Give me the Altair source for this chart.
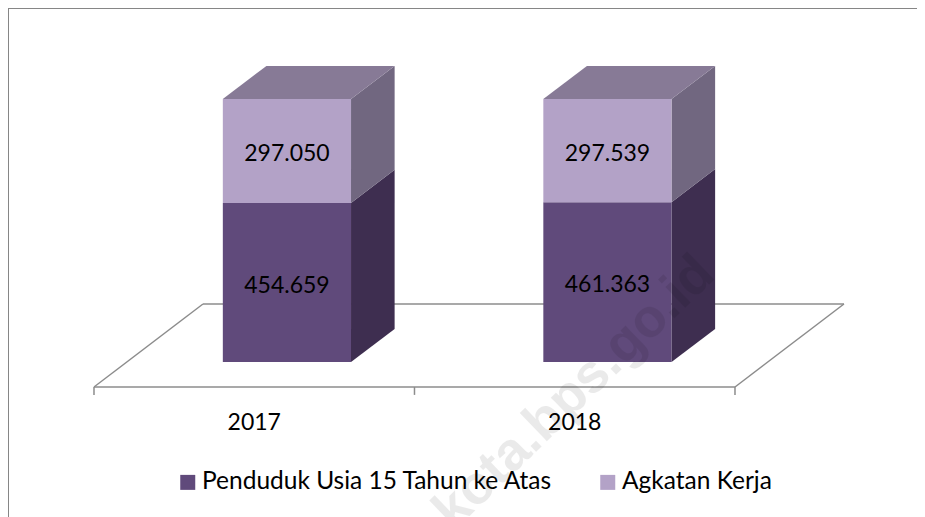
import altair as alt
import pandas as pd

# --- chart values -----------------------------------------------------
categories = ["2017", "2018"]
series_names = ["Penduduk Usia 15 Tahun ke Atas", "Agkatan Kerja"]
penduduk = [454.659, 461.363]
angkatan = [297.050, 297.539]
front_colors = ["#604A7B", "#B3A2C7"]
side_colors = ["#3E2E50", "#716780"]
top_color = "#877A96"
axis_color = "#8C8C8C"
font = "Lato"

# --- 3D projection: category units on x, share of the stack on y -------
W, H = 909, 509
BAR_W = 0.40
DEPTH_X = 0.340       # x shift for full floor depth
DEPTH_Y = 0.3156      # y shift for full floor depth
Z0, Z1 = 0.3, 0.7     # bar position in the floor depth
x_scale = alt.Scale(domain=[-0.2683, 2.5679], nice=False, zero=False)
y_scale = alt.Scale(domain=[-0.4943, 1.4411], nice=False, zero=False)


def px(x, z):
    return x + DEPTH_X * z


def py(y, z):
    return y + DEPTH_Y * z


front, faces, labels = [], [], []
for i, cat in enumerate(categories):
    total = penduduk[i] + angkatan[i]
    left = i + 0.5 - BAR_W / 2
    right = i + 0.5 + BAR_W / 2
    base = 0.0
    for j, val in enumerate((penduduk[i], angkatan[i])):
        top = base + val / total
        front.append(dict(cat=cat, series=series_names[j],
                          x=px(left, Z0), x2=px(right, Z0),
                          y=py(base, Z0), y2=py(top, Z0)))
        labels.append(dict(x=px(i + 0.5, Z0), y=py((base + top) / 2, Z0), v=val))
        key = f"side-{cat}-{j}"
        for z in (Z0, Z1):
            faces.append(dict(key=key, fill=side_colors[j], x=px(right, z),
                              y=py(base, z), y2=py(top, z)))
        base = top
    key = f"top-{cat}"
    yf, yb = py(1, Z0), py(1, Z1)
    for xx, a, b in ((px(left, Z0), yf, yf), (px(left, Z1), yb, yf),
                     (px(right, Z0), yb, yf), (px(right, Z1), yb, yb)):
        faces.append(dict(key=key, fill=top_color, x=xx, y=a, y2=b))

n = len(categories)
floor = pd.DataFrame([
    dict(seg="back", order=0, x=px(0, 1), y=py(0, 1)),
    dict(seg="back", order=1, x=px(n, 1), y=py(0, 1)),
    dict(seg="left", order=0, x=px(0, 0), y=py(0, 0)),
    dict(seg="left", order=1, x=px(0, 1), y=py(0, 1)),
    dict(seg="right", order=0, x=px(n, 0), y=py(0, 0)),
    dict(seg="right", order=1, x=px(n, 1), y=py(0, 1)),
    dict(seg="front", order=0, x=px(0, 0), y=py(0, 0)),
    dict(seg="front", order=1, x=px(n, 0), y=py(0, 0)),
])
ticks = pd.DataFrame([dict(x=float(i), y=0.0, y2=-0.030) for i in range(n + 1)])
cat_labels = pd.DataFrame([dict(x=i + 0.5, y=-0.137, t=c) for i, c in enumerate(categories)])

X = alt.X("x:Q", scale=x_scale, axis=None)
Y = alt.Y("y:Q", scale=y_scale, axis=None)

floor_layer = alt.Chart(floor).mark_line(color=axis_color, strokeWidth=1.5).encode(
    x=X, y=Y, detail="seg:N", order="order:Q")
tick_layer = alt.Chart(ticks).mark_rule(color=axis_color, strokeWidth=1.5).encode(
    x=X, y=Y, y2="y2:Q")
face_layer = alt.Chart(pd.DataFrame(faces)).mark_area(opacity=1).encode(
    x=X, y=Y, y2="y2:Q", detail="key:N",
    color=alt.Color("fill:N", scale=None))
bar_layer = alt.Chart(pd.DataFrame(front)).mark_rect().encode(
    x=X, x2="x2:Q", y=Y, y2="y2:Q",
    color=alt.Color(
        "series:N",
        scale=alt.Scale(domain=series_names, range=front_colors),
        legend=alt.Legend(
            title=None, orient="none", direction="horizontal",
            legendX=167.5, legendY=462, padding=0,
            symbolType="square", symbolSize=225, symbolStrokeWidth=0,
            symbolOpacity=1, labelFont=font, labelFontSize=24.5, labelColor="#000000",
            labelOffset=2, columnPadding=42, labelLimit=500,
        ),
    ),
)
value_layer = alt.Chart(pd.DataFrame(labels)).mark_text(
    font=font, fontSize=23, color="#000000", baseline="middle", dy=3).encode(
    x=X, y=Y, text=alt.Text("v:Q", format=".3f"))
cat_layer = alt.Chart(cat_labels).mark_text(
    font=font, fontSize=23, color="#000000", baseline="middle").encode(
    x=X, y=Y, text="t:N")
watermark = alt.Chart(pd.DataFrame([dict(t="kota.bps.go.id")])).mark_text(
    font="Liberation Sans", fontWeight="bold", fontSize=54, angle=316, align="right",
    baseline="alphabetic", color="#000000", opacity=0.08).encode(
    x=alt.value(709), y=alt.value(269), text="t:N")
frame_left = alt.Chart(pd.DataFrame([dict(a=0)])).mark_rule(color="#868686", strokeWidth=2).encode(
    x=alt.value(0), y=alt.value(0), y2=alt.value(H))
frame_top = alt.Chart(pd.DataFrame([dict(a=0)])).mark_rule(color="#868686", strokeWidth=2).encode(
    y=alt.value(0), x=alt.value(0), x2=alt.value(W))

chart = alt.layer(
    frame_left, frame_top, floor_layer, tick_layer, face_layer, bar_layer,
    value_layer, cat_layer, watermark,
).properties(
    width=W, height=H, padding=0,
    autosize=alt.AutoSizeParams(type="none"),
    background="#FFFFFF",
).configure_view(stroke=None)

chart.save("out.html", embed_options={"renderer": "svg", "actions": False})
